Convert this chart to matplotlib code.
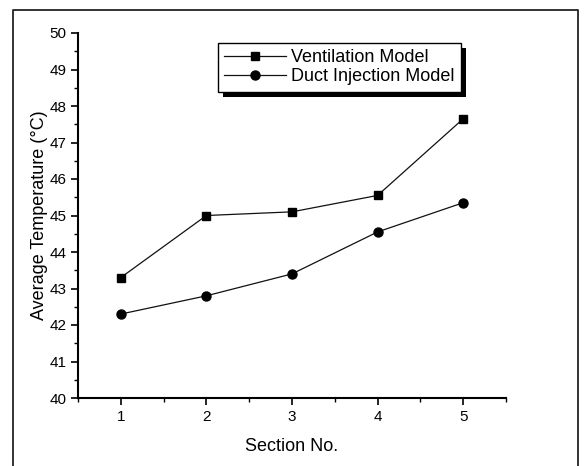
import matplotlib
matplotlib.use("Agg")
import matplotlib.pyplot as plt
from matplotlib.lines import Line2D
from matplotlib.patches import Rectangle
from matplotlib.ticker import MultipleLocator

plt.rcParams["font.family"] = ["Liberation Sans", "DejaVu Sans"]

sections = [1, 2, 3, 4, 5]
ventilation = [43.3, 45.0, 45.1, 45.55, 47.65]
duct_injection = [42.3, 42.8, 43.4, 44.55, 45.35]

W, H = 584, 466
fig = plt.figure(figsize=(W / 100, H / 100), dpi=100)
ax = fig.add_axes([78 / W, 1 - 398 / H, (506 - 78) / W, (398 - 33) / H])
ax.patch.set_visible(False)

ax.plot(sections, ventilation, color="#111111", lw=0.9, marker="s", ms=5.5,
        mfc="black", mec="black", label="Ventilation Model")
ax.plot(sections, duct_injection, color="#111111", lw=0.9, marker="o", ms=6.5,
        mfc="black", mec="black", label="Duct Injection Model")

ax.set_xlim(0.5, 5.5)
ax.set_ylim(40, 50)
ax.xaxis.set_major_locator(MultipleLocator(1))
ax.xaxis.set_minor_locator(MultipleLocator(0.5))
ax.yaxis.set_major_locator(MultipleLocator(1))
ax.yaxis.set_minor_locator(MultipleLocator(0.5))
ax.tick_params(which="major", direction="out", length=5, width=1.2, labelsize=11)
ax.tick_params(which="minor", direction="out", length=3, width=1.0)
ax.spines[["top", "right"]].set_visible(False)
for s in ("left", "bottom"):
    ax.spines[s].set_linewidth(1.5)

ax.set_xlabel("Section No.", fontsize=13, labelpad=10)
ax.set_ylabel("Average Temperature (°C)", fontsize=13, labelpad=1)

leg = ax.legend(loc="upper left", bbox_to_anchor=((218 - 78) / (506 - 78), 1 - (43 - 33) / (398 - 33)),
                fontsize=13, frameon=True, fancybox=False, framealpha=1, handlelength=3.4,
                handletextpad=0.3, borderpad=0.35, labelspacing=0.12, borderaxespad=0)
leg.get_frame().set_edgecolor("black")
leg.get_frame().set_linewidth(1.0)

fig.canvas.draw()
bb = leg.get_window_extent()
off = 5
fig.add_artist(Rectangle((bb.x0 + off, bb.y0 - off), bb.width, bb.height,
                         transform=None, facecolor="black", edgecolor="none", zorder=-1))

# outer frame of the scanned figure
fx0, fx1, fy1 = 13 / W, 578 / W, 1 - 10 / H
fig.add_artist(Line2D([fx0, fx0, fx1, fx1], [0, fy1, fy1, 0], transform=fig.transFigure,
                      color="#222222", lw=1.3))

fig.savefig("out.png", dpi=100)
